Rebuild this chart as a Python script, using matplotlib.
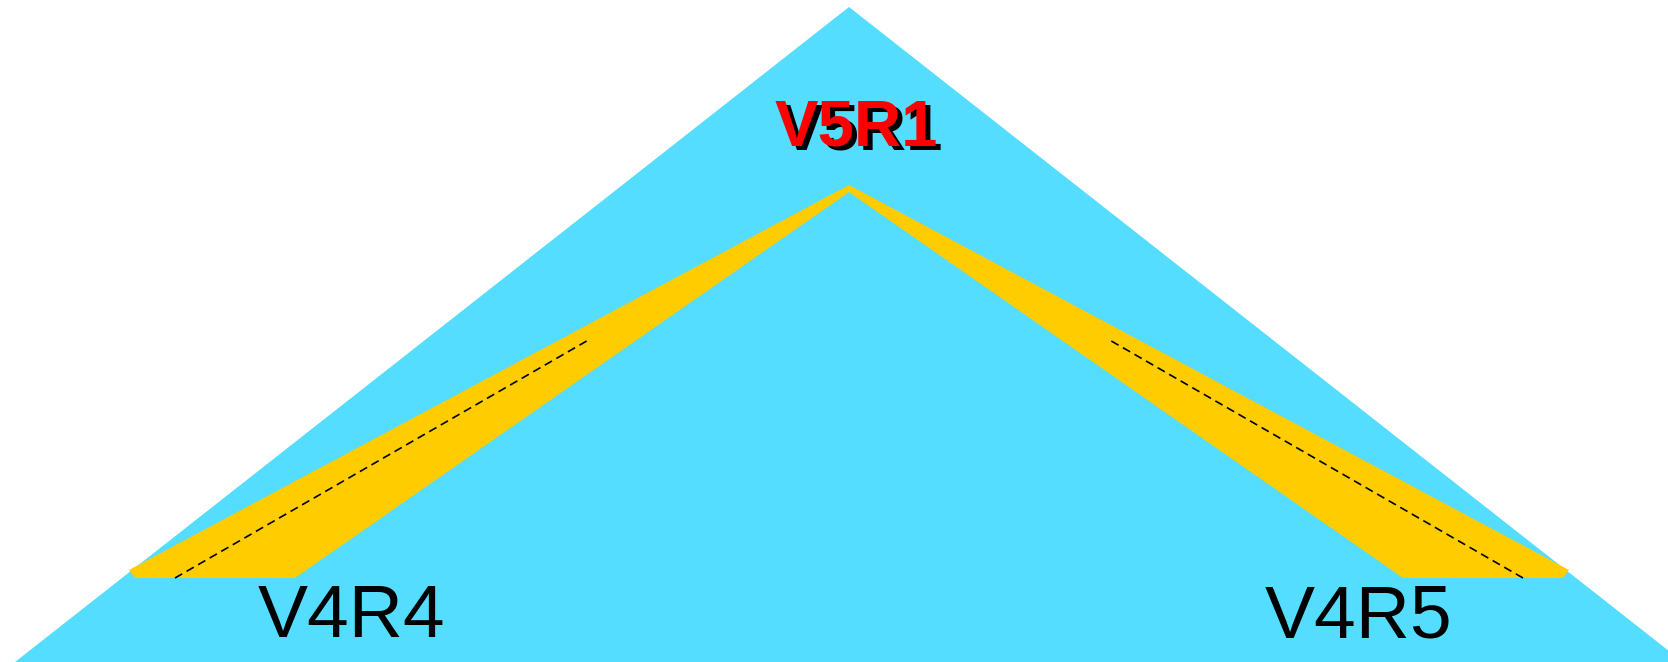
import matplotlib
matplotlib.use("Agg")
import matplotlib.pyplot as plt
from matplotlib.patches import Polygon

# tree nodes: label, x, y (pixel coordinates of the picture)
root_label = "V5R1"
root_xy = (849, 187)
child_labels = ["V4R4", "V4R5"]
child_feet = [(135, 578), (1563, 578)]
label_xy = [(258, 637), (1265, 637)]

W, H = 1668, 662
fig = plt.figure(figsize=(W / 100, H / 100), dpi=100)
ax = fig.add_axes([0, 0, 1, 1])
ax.set_xlim(0, W)
ax.set_ylim(H, 0)
ax.axis("off")

# big cyan triangle
ax.add_patch(Polygon([(15, 662), (849, 7), (1683, 662)], closed=True,
                     facecolor="#55ddff", edgecolor="none"))

# yellow wedges from the root to every child
rx, ry = root_xy
for (fx, fy), side in zip(child_feet, [1, -1]):
    inner = fx + side * 160
    pts = [(rx, ry - 2), (fx - side * 6, fy - 8), (fx, fy), (inner, fy), (rx + side * 3, ry + 3)]
    ax.add_patch(Polygon(pts, closed=True, facecolor="#ffcc00", edgecolor="none"))
    # dashed line inside the wedge, stops before the root
    sx = fx + side * 40
    t = 0.613
    ax.plot([sx, sx + t * (rx - sx)], [fy, fy + t * (ry + 3 - fy)], color="black",
            lw=1.2, ls=(0, (5, 3)))

# root label, red with black shadow
ax.text(rx - 74 + 5, 145 + 5, root_label, fontsize=47, fontweight="bold",
        family="Liberation Sans", color="black", va="baseline", ha="left")
ax.text(rx - 74, 145, root_label, fontsize=47, fontweight="bold",
        family="Liberation Sans", color="#ff0000", va="baseline", ha="left")

for lab, (lx, ly) in zip(child_labels, label_xy):
    ax.text(lx, ly, lab, fontsize=54, family="Liberation Sans", color="black",
            va="baseline", ha="left")

fig.savefig("out.png", dpi=100)
